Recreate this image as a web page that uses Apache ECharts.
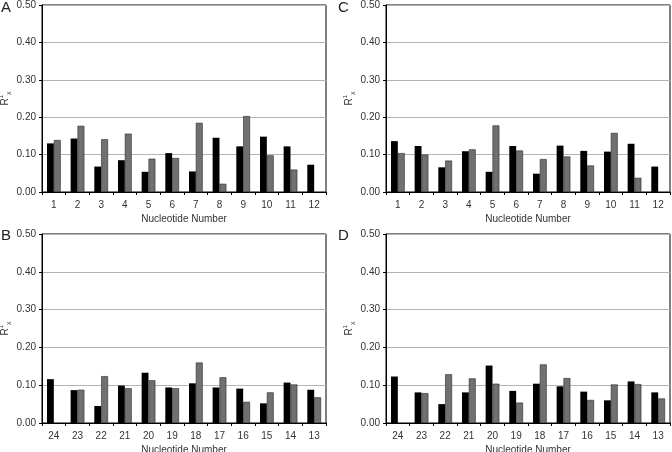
<!DOCTYPE html>
<html><head><meta charset="utf-8">
<script src="https://cdn.jsdelivr.net/npm/echarts@6/dist/echarts.min.js"></script>
<style>html,body{margin:0;padding:0;background:#fff}#c{width:672px;height:452px}</style>
</head><body><div id="c"></div>
<script>
const catsTop = ['1','2','3','4','5','6','7','8','9','10','11','12'];
const catsBottom = ['24','23','22','21','20','19','18','17','16','15','14','13'];
const yTicks = [0, 0.1, 0.2, 0.3, 0.4, 0.5];

const aBlack = [0.130,0.143,0.068,0.085,0.054,0.104,0.055,0.145,0.122,0.148,0.122,0.073];
const aGray  = [0.139,0.177,0.141,0.156,0.089,0.091,0.185,0.022,0.203,0.098,0.060,null];
const cBlack = [0.136,0.123,0.066,0.109,0.054,0.123,0.049,0.124,0.110,0.108,0.129,0.068];
const cGray  = [0.104,0.100,0.084,0.114,0.178,0.111,0.088,0.095,0.071,0.158,0.038,null];
const bBlack = [0.116,0.087,0.045,0.099,0.133,0.094,0.105,0.094,0.091,0.052,0.107,0.088];
const bGray  = [null,0.088,0.124,0.092,0.113,0.092,0.160,0.121,0.056,0.081,0.102,0.068];
const dBlack = [0.123,0.081,0.050,0.081,0.152,0.085,0.104,0.097,0.083,0.060,0.110,0.081];
const dGray  = [null,0.079,0.129,0.118,0.104,0.054,0.155,0.119,0.061,0.102,0.103,0.065];

const panels = [
  {letter:'A', cats:catsTop, black:aBlack, gray:aGray, left:42, top:5, height:187},
  {letter:'C', cats:catsTop, black:cBlack, gray:cGray, left:386, top:5, height:187},
  {letter:'B', cats:catsBottom, black:bBlack, gray:bGray, left:42, top:234, height:189},
  {letter:'D', cats:catsBottom, black:dBlack, gray:dGray, left:386, top:234, height:189}
];
const font = 'Liberation Sans, Arial, sans-serif';
const txt = '#333';
const grid = [], xAxis = [], yAxis = [], series = [], graphic = [];
panels.forEach((p, i) => {
  grid.push({left:p.left, top:p.top, width:284, height:p.height, show:true, borderColor:'#000', borderWidth:1,
    backgroundColor:'transparent', containLabel:false, outerBoundsMode:'none'});
  xAxis.push({type:'category', gridIndex:i, data:p.cats, boundaryGap:true,
    name:'Nucleotide Number', nameLocation:'middle', nameGap:22,
    nameTextStyle:{fontFamily:font, fontSize:10, color:txt},
    axisLine:{lineStyle:{color:'#000', width:1}},
    axisTick:{show:true, length:3, alignWithLabel:false, lineStyle:{color:'#000'}},
    axisLabel:{fontFamily:font, fontSize:10, color:txt, margin:8},
    splitLine:{show:false}});
  yAxis.push({type:'value', gridIndex:i, min:0, max:0.5, interval:0.1,
    name:'{r|R}{s|1}{b|x}', nameLocation:'middle', nameGap:28, nameRotate:90,
    nameTextStyle:{fontFamily:font, fontSize:10, color:txt,
      rich:{r:{fontFamily:font,fontSize:10,color:txt,lineHeight:14},
            s:{fontFamily:font,fontSize:6,color:txt,verticalAlign:'top',lineHeight:14},
            b:{fontFamily:font,fontSize:7,color:txt,verticalAlign:'bottom',lineHeight:14}}},
    axisLine:{show:true, lineStyle:{color:'#000', width:1}},
    axisTick:{show:true, length:3, lineStyle:{color:'#000'}},
    axisLabel:{fontFamily:font, fontSize:10, color:txt, margin:6, formatter:v=>v.toFixed(2)},
    splitLine:{show:true, lineStyle:{color:'#b4b4b4', width:1}}});
  series.push({type:'bar', xAxisIndex:i, yAxisIndex:i, data:p.black, barGap:'0%', barCategoryGap:'42%',
    itemStyle:{color:'#000'}, silent:true});
  series.push({type:'bar', xAxisIndex:i, yAxisIndex:i, data:p.gray, barGap:'0%', barCategoryGap:'42%',
    itemStyle:{color:'#707070', borderColor:'#2a2a2a', borderWidth:0.6}, silent:true});
  graphic.push({type:'text', left:(i%2===0?1:338), top:(i<2?0:228),
    style:{text:p.letter, font:'15px ' + font, fill:'#222'}});
});
const chart = echarts.init(document.getElementById('c'), null, {renderer:'canvas'});
chart.setOption({animation:false, backgroundColor:'#fff', grid, xAxis, yAxis, series, graphic});
</script></body></html>
